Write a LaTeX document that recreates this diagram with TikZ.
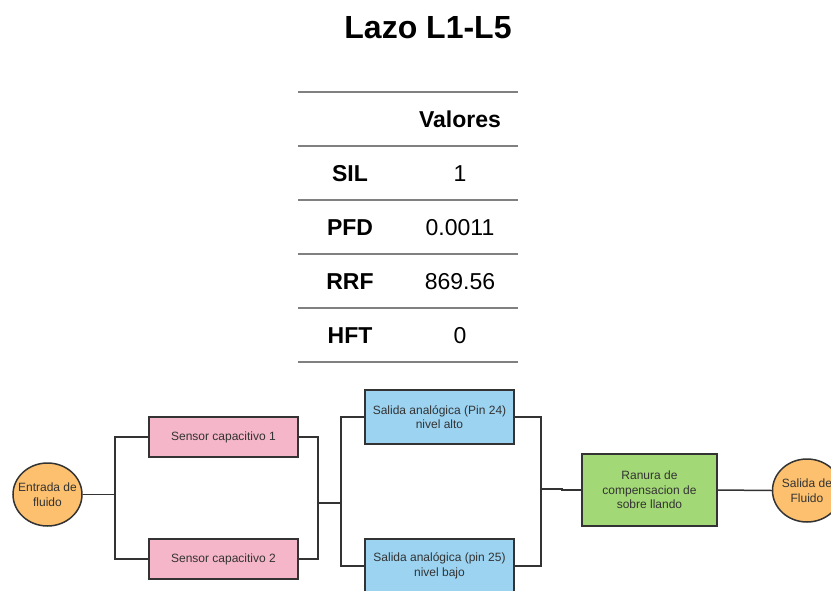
\documentclass[tikz,border=0pt]{standalone}
\usepackage{fontspec}
\setmainfont{Liberation Sans}
\usetikzlibrary{shapes.geometric}
\definecolor{linegray}{RGB}{51,51,51}
\definecolor{rulegray}{RGB}{128,128,128}
\definecolor{pinkfill}{RGB}{244,182,200}
\definecolor{bluefill}{RGB}{155,211,241}
\definecolor{greenfill}{RGB}{163,216,118}
\definecolor{orangefill}{RGB}{252,192,110}
\tikzset{
  diagtext/.style={align=center, font=\fontsize{12}{14.5}\selectfont, text=black!80},
  box/.style={draw=linegray, line width=1.5pt, rectangle, inner sep=0pt, diagtext},
  sensorbox/.style={box, fill=pinkfill, minimum width=149pt, minimum height=40pt},
  outbox/.style={box, fill=bluefill, minimum width=149pt, minimum height=54pt},
  slotbox/.style={box, fill=greenfill, minimum width=135pt, minimum height=72pt},
  % fixed-size ellipse; its text is set as a centred label so it does not grow
  port/.style={draw=linegray, line width=1.5pt, ellipse, inner sep=0pt, fill=orangefill,
    minimum width=69pt, minimum height=63pt,
    label={[diagtext, inner sep=0pt]center:#1}},
  wire/.style={draw=linegray, line width=1.5pt},
  tabrule/.style={draw=rulegray, line width=2pt},
  tabhead/.style={anchor=base, font=\fontsize{23}{27}\selectfont\bfseries},
  tabval/.style={anchor=base, font=\fontsize{23}{27}\selectfont},
}
\begin{document}
\begin{tikzpicture}[x=1pt, y=-1pt]
\useasboundingbox (0,0) rectangle (831,590);
\clip (0,0) rectangle (831,590);

% title
\node[font=\fontsize{32}{38}\selectfont\bfseries] (title) at (428,28) {Lazo L1-L5};

% summary table
\foreach \y in {92,146,200,254,308,362}
  \draw[tabrule] (298,\y) -- (518,\y);
\node[tabhead] (hval) at (460,127.3) {Valores};
\node[tabhead] (lsil) at (350,181.5) {SIL};
\node[tabval]  (vsil) at (460,181.5) {1};
\node[tabhead] (lpfd) at (350,235.5) {PFD};
\node[tabval]  (vpfd) at (460,235.5) {0.0011};
\node[tabhead] (lrrf) at (350,289.5) {RRF};
\node[tabval]  (vrrf) at (460,289.5) {869.56};
\node[tabhead] (lhft) at (350,343.5) {HFT};
\node[tabval]  (vhft) at (460,343.5) {0};

% block diagram
\node[port={Entrada de\\fluido}] (in) at (47.5,494.5) {};
\node[sensorbox] (s1) at (223.5,437) {Sensor capacitivo 1};
\node[sensorbox] (s2) at (223.5,559) {Sensor capacitivo 2};
\node[outbox] (a1) at (439.5,417) {Salida analógica (Pin 24)\\nivel alto};
\node[outbox] (a2) at (439.5,566) {Salida analógica (pin 25)\\nivel bajo};
\node[slotbox] (r) at (649.5,490) {Ranura de\\compensacion de\\sobre llando};
\node[port={Salida de\\Fluido}] (out) at (807,490.5) {};

\coordinate (j1) at (115,494.5);
\coordinate (j2) at (318,503);
\coordinate (j3) at (341,503);
\coordinate (j4) at (541,489);
\coordinate (j5) at (562,489);

\draw[wire] (in.east) -- (j1);
\draw[wire] (s1.west) -| (j1);
\draw[wire] (s2.west) -| (j1);
\draw[wire] (s1.east) -| (j2);
\draw[wire] (s2.east) -| (j2);
\draw[wire] (j2) -- (j3);
\draw[wire] (a1.west) -| (j3);
\draw[wire] (a2.west) -| (j3);
\draw[wire] (a1.east) -| (j4);
\draw[wire] (a2.east) -| (j4);
\draw[wire] (j4) -- (j5) |- (r.west);
\draw[wire] (r.east) -- (out.west);
\end{tikzpicture}
\end{document}
